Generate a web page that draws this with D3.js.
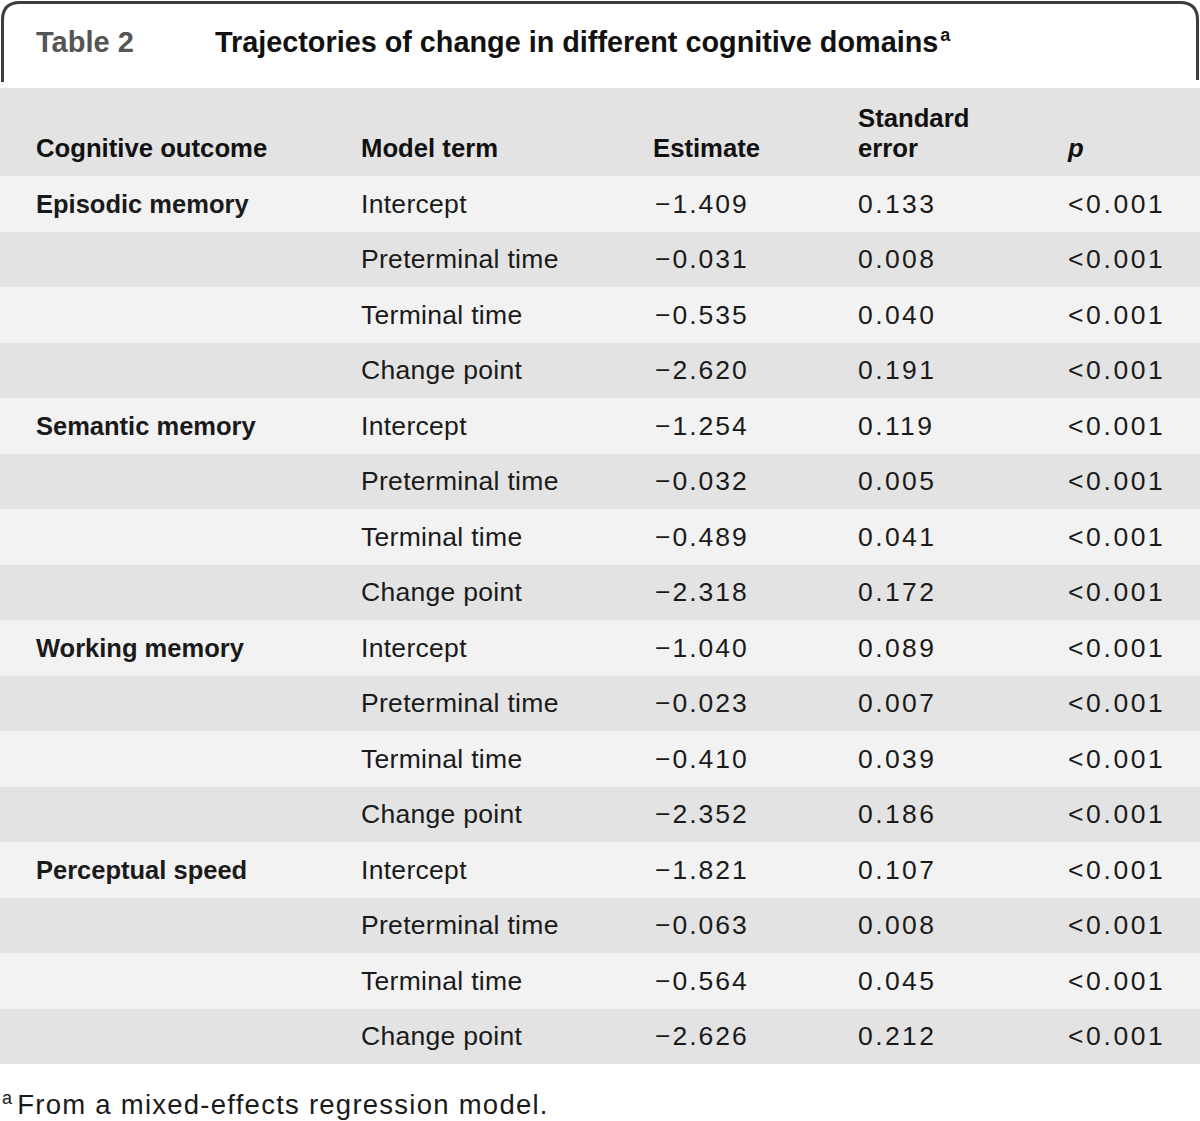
<!DOCTYPE html>
<html><head><meta charset="utf-8">
<script src="https://cdn.jsdelivr.net/npm/d3@7"></script>
<style>body{margin:0;background:#fff}svg{display:block}</style>
</head><body>
<script>
const tableLabel = "Table 2";
const title = "Trajectories of change in different cognitive domains";
const footnote = "From a mixed-effects regression model.";
const headers = [["Cognitive outcome"],["Model term"],["Estimate"],["Standard","error"],["p"]];
const outcomes = ["Episodic memory","Semantic memory","Working memory","Perceptual speed"];
const terms = ["Intercept","Preterminal time","Terminal time","Change point"];
const estimates = ["−1.409","−0.031","−0.535","−2.620","−1.254","−0.032","−0.489","−2.318","−1.040","−0.023","−0.410","−2.352","−1.821","−0.063","−0.564","−2.626"];
const stdErrors = ["0.133","0.008","0.040","0.191","0.119","0.005","0.041","0.172","0.089","0.007","0.039","0.186","0.107","0.008","0.045","0.212"];
const pValues = ["<0.001","<0.001","<0.001","<0.001","<0.001","<0.001","<0.001","<0.001","<0.001","<0.001","<0.001","<0.001","<0.001","<0.001","<0.001","<0.001"];

const W = 1200, H = 1121;
const svg = d3.select("body").append("svg").attr("width", W).attr("height", H);

const rows = d3.range(16);
const y = d3.scaleBand().domain(rows).range([176, 1064]).padding(0);
const colX = [36, 361, 655, 858, 1068];
const bodyFont = "'Liberation Sans', Arial, sans-serif";
const boldFont = "'Liberation Sans', Arial, sans-serif";

// top frame
svg.append("path")
  .attr("d", "M2.5,82 L2.5,20 Q2.5,2.5 20,2.5 L1180,2.5 Q1197.5,2.5 1197.5,20 L1197.5,80")
  .attr("fill","none").attr("stroke","#3d3d3d").attr("stroke-width",3);

svg.append("text").attr("x",36).attr("y",52).attr("font-family",boldFont).attr("font-weight","bold")
  .attr("font-size",29).attr("fill","#555").text(tableLabel);
const t = svg.append("text").attr("x",215).attr("y",52).attr("font-family",boldFont).attr("font-weight","bold")
  .attr("font-size",28.8).attr("fill","#111");
t.append("tspan").text(title);
t.append("tspan").attr("font-size",18).attr("dy",-11).attr("dx",2).text("a");

// header band
svg.append("rect").attr("x",0).attr("y",88).attr("width",W).attr("height",88).attr("fill","#e3e3e3");
headers.forEach((h,i)=>{
  h.forEach((line,j)=>{
    svg.append("text").attr("x",colX[i] - (i===2 ? 2 : 0)).attr("y",157 - (h.length-1-j)*30)
      .attr("font-family",boldFont).attr("font-weight","bold").attr("font-size",25.7)
      .attr("font-style", i===4 ? "italic" : null)
      .attr("fill","#111").text(line);
  });
});

// body rows
svg.selectAll("rect.row").data(rows).join("rect").attr("class","row")
  .attr("x",0).attr("y",d=>y(d)).attr("width",W).attr("height",y.bandwidth())
  .attr("fill",d=> d%2===0 ? "#f2f2f2" : "#e3e3e3");

const cell = (arr, col, opts={}) => svg.selectAll(null).data(arr).join("text")
  .attr("x",colX[col]).attr("y",(d,i)=> y(opts.step ? i*opts.step : i) + y.bandwidth()/2 + 9)
  .attr("font-family",bodyFont).attr("font-size",opts.size || 26.5)
  .attr("letter-spacing",opts.ls || 0)
  .attr("font-weight",opts.bold ? "bold" : null)
  .attr("fill","#1a1a1a").text(d=>d);

cell(outcomes, 0, {step:4, bold:true, size:25.5});
cell(rows.map(i=>terms[i%4]), 1, {ls:0.3});
cell(estimates, 2, {ls:2});
cell(stdErrors, 3, {ls:2.4});
cell(pValues, 4, {ls:2.6});

const f = svg.append("text").attr("x",2).attr("y",1114).attr("font-family",bodyFont).attr("font-size",27.5).attr("fill","#1a1a1a").attr("letter-spacing",1.25);
f.append("tspan").attr("font-size",18).attr("dy",-10).text("a");
f.append("tspan").attr("dy",10).attr("dx",4).text(footnote);
</script>
</body></html>
